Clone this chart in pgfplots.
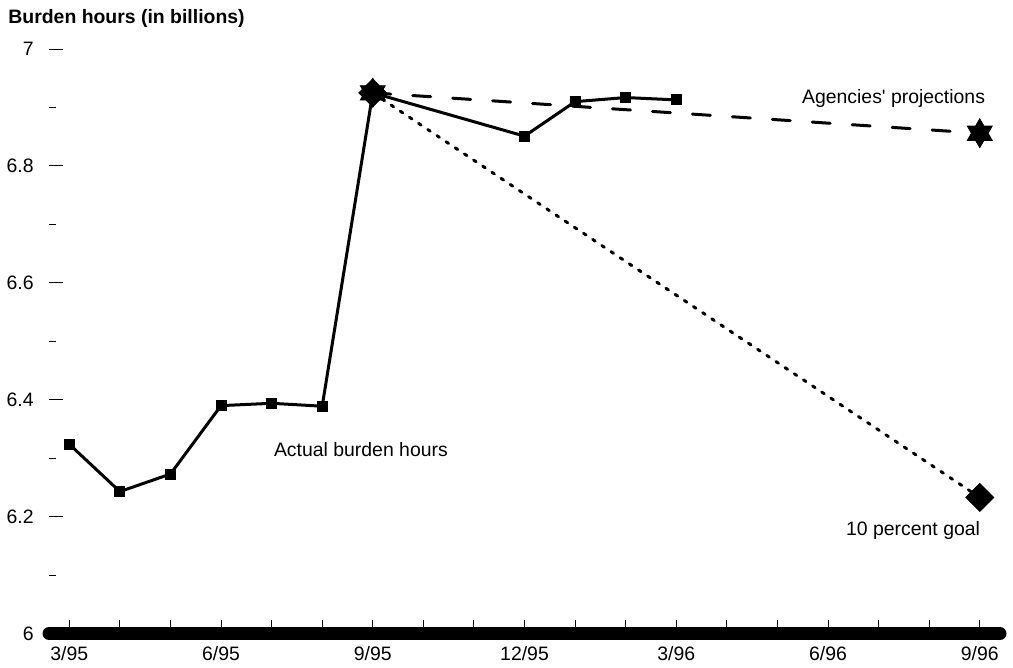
\documentclass[border=0pt]{standalone}
\usepackage{fontspec}
\setmainfont{Liberation Sans}
\usepackage{pgfplots}
\pgfplotsset{compat=1.18}
\pgfdeclareplotmark{hexstar}{%
  \pgfpathmoveto{\pgfpointpolar{90}{\pgfplotmarksize}}%
  \pgfpathlineto{\pgfpointpolar{60}{0.577\pgfplotmarksize}}%
  \pgfpathlineto{\pgfpointpolar{30}{\pgfplotmarksize}}%
  \pgfpathlineto{\pgfpointpolar{0}{0.577\pgfplotmarksize}}%
  \pgfpathlineto{\pgfpointpolar{-30}{\pgfplotmarksize}}%
  \pgfpathlineto{\pgfpointpolar{-60}{0.577\pgfplotmarksize}}%
  \pgfpathlineto{\pgfpointpolar{-90}{\pgfplotmarksize}}%
  \pgfpathlineto{\pgfpointpolar{-120}{0.577\pgfplotmarksize}}%
  \pgfpathlineto{\pgfpointpolar{-150}{\pgfplotmarksize}}%
  \pgfpathlineto{\pgfpointpolar{180}{0.577\pgfplotmarksize}}%
  \pgfpathlineto{\pgfpointpolar{150}{\pgfplotmarksize}}%
  \pgfpathlineto{\pgfpointpolar{120}{0.577\pgfplotmarksize}}%
  \pgfpathclose
  \pgfusepathqfillstroke}
\newcommand{\chartfont}{\fontsize{9.7}{11.6}\selectfont}
\begin{document}
\begin{tikzpicture}
\useasboundingbox (-24.5pt,-17pt) rectangle (481.5pt,316.5pt);
\begin{axis}[
  at={(0pt,0pt)}, anchor=south west,
  scale only axis, width=475pt, height=292pt,
  xmin=-0.4, xmax=18.4, ymin=6, ymax=7,
  axis x line*=bottom, axis y line*=left,
  x axis line style={line width=6.5pt, line cap=round, -},
  y axis line style={draw=none},
  tick align=inside,
  major tick length=7pt, minor tick length=3.5pt,
  every tick/.style={black, line width=0.5pt},
  xtick={0,...,18},
  xticklabels={3/95,,,6/95,,,9/95,,,12/95,,,3/96,,,6/96,,,9/96},
  ytick={6,6.2,6.4,6.6,6.8,7},
  yticklabels={6,6.2,6.4,6.6,6.8,7},
  minor ytick={6.1,6.3,6.5,6.7,6.9},
  tick label style={font=\chartfont},
  xticklabel style={inner sep=0pt, yshift=-6pt},
  yticklabel style={inner sep=0pt, xshift=-7.5pt},
  clip=false,
]
\addplot[black, line width=1.5pt, mark=square*, mark size=2.5pt, mark options={solid, line width=0.4pt}]
  coordinates {(0,6.324) (1,6.243) (2,6.273) (3,6.390) (4,6.394) (5,6.389) (6,6.925) (9,6.851) (10,6.910) (11,6.917) (12,6.913)};
\addplot[black, line width=1.5pt, line cap=round, dash pattern=on 1.5pt off 4pt, mark=square*, mark size=4.95pt, mark options={solid, rotate=45, line width=0.4pt}]
  coordinates {(6,6.925) (18,6.233)};
\addplot[black, line width=1.5pt, line cap=round, dash pattern=on 9pt off 11pt, mark=hexstar, mark size=7.2pt, mark options={solid, line width=0.4pt}]
  coordinates {(6,6.925) (18,6.856)};
\node[anchor=base west, font=\chartfont, inner sep=0pt] at (axis cs:14.48,6.907) {Agencies\textquotesingle\ projections};
\node[anchor=base west, font=\chartfont, inner sep=0pt] at (axis cs:15.35,6.168) {10 percent goal};
\node[anchor=base west, font=\chartfont, inner sep=0pt] at (axis cs:4.04,6.303) {Actual burden hours};
\end{axis}
\node[anchor=base west, font=\chartfont\bfseries, inner sep=0pt] at (-20.5pt,305pt) {Burden hours (in billions)};
\end{tikzpicture}
\end{document}
